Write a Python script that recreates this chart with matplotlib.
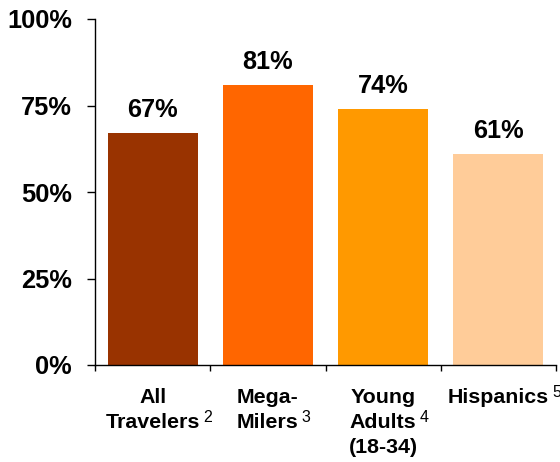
import matplotlib
matplotlib.use("Agg")
import matplotlib.pyplot as plt
import matplotlib.transforms as mtransforms

# ---- data ----
categories = [["All", "Travelers"], ["Mega-", "Milers"], ["Young", "Adults", "(18-34)"], ["Hispanics"]]
footnotes = ["2", "3", "4", "5"]
footnote_line = [1, 1, 1, 0]
values = [67, 81, 74, 61]
colors = ["#993300", "#FF6600", "#FF9900", "#FFCC99"]
yticks = [0, 25, 50, 75, 100]
ytick_labels = ["0%", "25%", "50%", "75%", "100%"]

plt.rcParams["font.family"] = ["Liberation Sans", "DejaVu Sans"]

W, H, DPI = 560, 462, 100
fig = plt.figure(figsize=(W / DPI, H / DPI), dpi=DPI)
ax = fig.add_axes([95 / W, (H - 365) / H, (556 - 95) / W, (365 - 19) / H])

x = list(range(len(values)))
ax.bar(x, values, width=0.78, color=colors, zorder=2)

ax.set_xlim(-0.5, len(values) - 0.5)
ax.set_ylim(0, 100)
ax.set_yticks(yticks)
ax.set_yticklabels(ytick_labels, fontsize=18.3, fontweight="bold")
ax.set_xticks([i - 0.5 for i in range(len(values) + 1)])
ax.set_xticklabels([])
ax.tick_params(axis="y", direction="out", length=6, width=1, pad=10.5)
ax.tick_params(axis="x", direction="out", length=4.5, width=1)
for s in ["top", "right"]:
    ax.spines[s].set_visible(False)
for s in ["left", "bottom"]:
    ax.spines[s].set_linewidth(1.0)

# value labels
for xi, v in zip(x, values):
    ax.annotate(f"{v}%", xy=(xi, v), xytext=(0, 11.5), textcoords="offset points",
                ha="center", va="baseline", fontsize=18.3, fontweight="bold")

# category labels
blend = mtransforms.blended_transform_factory(ax.transData, ax.transAxes)
line_texts = []
for xi, lines in enumerate(categories):
    row = []
    for li, line in enumerate(lines):
        offset_px = 38 + 25 * li
        tr = mtransforms.offset_copy(blend, fig=fig, x=0, y=-offset_px * 72 / DPI, units="points")
        t = ax.text(xi, 0, line, transform=tr, ha="center", va="baseline",
                    fontsize=15.4, fontweight="bold", clip_on=False)
        row.append((t, offset_px))
    line_texts.append(row)

fig.canvas.draw()
renderer = fig.canvas.get_renderer()
for xi, (row, fn, fl) in enumerate(zip(line_texts, footnotes, footnote_line)):
    t, offset_px = row[fl]
    bb = t.get_window_extent(renderer)
    y_base_disp = ax.transAxes.transform((0, 0))[1] - offset_px
    fig.text((bb.x1 + 3) / W, (y_base_disp + 6) / H, fn, ha="left", va="baseline",
             fontsize=11.5)

fig.savefig("out.png", dpi=DPI)
